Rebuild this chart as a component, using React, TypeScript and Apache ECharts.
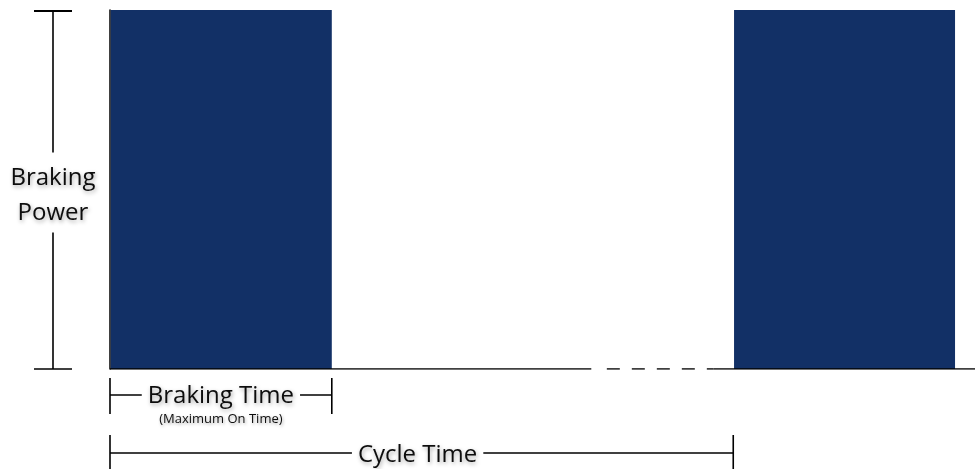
import React, { useEffect, useRef } from "react";
import * as echarts from "echarts";

// time axis (arbitrary units) and normalised braking power
const axisMax = 39;
const pulseStart = [0, 28.1];
const pulseEnd = [10, 38.1];
const pulsePower = [1, 1];
const powerMax = 1;

// baseline: solid, gap, dashed (time break), solid
const solidEnd = 21.7;
const dashStart = 22.4;
const dashEnd = 27.2;

// dimension annotations below the time axis
const spanLabels = ["Braking Time", "Cycle Time"];
const spanNotes = ["(Maximum On Time)", ""];
const spanStart = [0, 0];
const spanEnd = [10, 28.1];
const powerLabel = "Braking\nPower";

const NAVY = "#123066";
const INK = "#0d0d0d";
const FONT = '"Open Sans", "Noto Sans", sans-serif';

const shadow = {
  textShadowColor: "rgba(0,0,0,0.35)",
  textShadowBlur: 4,
  textShadowOffsetX: 1,
  textShadowOffsetY: 2,
};

export default function App() {
  const ref = useRef<HTMLDivElement>(null);

  useEffect(() => {
    if (!ref.current) return;
    const chart = echarts.init(ref.current, null, { renderer: "svg" });

    const pulses = pulseStart.map((s, i) => [s, pulseEnd[i], pulsePower[i]]);
    const spans = spanStart.map((s, i) => [s, spanEnd[i], i]);

    const lineStyle = { color: "#000", width: 1.6 };

    chart.setOption({
      animation: false,
      grid: { left: 110, right: 0, top: 10, bottom: 100 },
      xAxis: {
        type: "value",
        min: 0,
        max: axisMax,
        axisLine: { show: false },
        axisTick: { show: false },
        axisLabel: { show: false },
        splitLine: { show: false },
      },
      yAxis: {
        type: "value",
        min: 0,
        max: powerMax,
        axisLine: { show: true, lineStyle: { color: "#000", width: 1.5 } },
        axisTick: { show: false },
        axisLabel: { show: false },
        splitLine: { show: false },
      },
      series: [
        {
          type: "custom",
          name: "pulses",
          data: pulses,
          encode: { x: [0, 1], y: 2 },
          z: 3,
          renderItem: (params: any, api: any) => {
            const p1 = api.coord([api.value(0), api.value(2)]);
            const p2 = api.coord([api.value(1), 0]);
            return {
              type: "rect",
              shape: { x: p1[0] + 0.8, y: p1[1], width: p2[0] - p1[0] - 0.8, height: p2[1] - p1[1] },
              style: { fill: NAVY },
            };
          },
        },
        {
          type: "line",
          data: [[0, 0], [solidEnd, 0]],
          symbol: "none",
          lineStyle,
          z: 4,
        },
        {
          type: "line",
          data: [[dashStart, 0], [dashEnd, 0]],
          symbol: "none",
          lineStyle: { ...lineStyle, type: [13, 12] },
          z: 4,
        },
        {
          type: "line",
          data: [[dashEnd, 0], [axisMax, 0]],
          symbol: "none",
          lineStyle,
          z: 4,
        },
        {
          type: "custom",
          name: "spans",
          data: spans,
          encode: { x: [0, 1] },
          z: 5,
          clip: false,
          renderItem: (params: any, api: any) => {
            const i = params.dataIndex;
            const a = api.coord([api.value(0), 0]);
            const b = api.coord([api.value(1), 0]);
            const y0 = a[1];
            const lv = i === 0
              ? { t1: 9, t2: 45, ly: 26, ty: 24, fs: 24, dx: 0 }
              : { t1: 66, t2: 110, ly: 84, ty: 83, fs: 24, dx: -4 };
            const sh = { stroke: "#000", lineWidth: 1.6 };
            const children: any[] = [
              { type: "line", shape: { x1: a[0], y1: y0 + lv.t1, x2: a[0], y2: y0 + lv.t2 }, style: sh },
              { type: "line", shape: { x1: b[0], y1: y0 + lv.t1, x2: b[0], y2: y0 + lv.t2 }, style: sh },
              { type: "line", shape: { x1: a[0], y1: y0 + lv.ly, x2: b[0], y2: y0 + lv.ly }, style: sh },
              {
                type: "text",
                style: {
                  text: spanLabels[i],
                  x: (a[0] + b[0]) / 2 + lv.dx,
                  y: y0 + lv.ty,
                  align: "center",
                  verticalAlign: "middle",
                  font: `${lv.fs}px ${FONT}`,
                  lineHeight: 20,
                  fill: INK,
                  backgroundColor: "#fff",
                  padding: [0, 6],
                  ...shadow,
                },
              },
            ];
            if (spanNotes[i]) {
              children.push({
                type: "text",
                style: {
                  text: spanNotes[i],
                  x: (a[0] + b[0]) / 2,
                  y: y0 + 49,
                  align: "center",
                  verticalAlign: "middle",
                  font: `13px ${FONT}`,
                  lineHeight: 14,
                  fill: INK,
                  ...shadow,
                  textShadowBlur: 3,
                  textShadowOffsetY: 1.5,
                },
              });
            }
            return { type: "group", children };
          },
        },
        {
          type: "custom",
          name: "power",
          data: [[0, powerMax]],
          encode: { x: 0, y: 1 },
          z: 5,
          clip: false,
          renderItem: (params: any, api: any) => {
            const top = api.coord([api.value(0), api.value(1)]);
            const bot = api.coord([api.value(0), 0]);
            const x = top[0] - 57;
            const sh = { stroke: "#000", lineWidth: 1.6 };
            return {
              type: "group",
              children: [
                { type: "line", shape: { x1: x - 19, y1: top[1] + 1, x2: x + 19, y2: top[1] + 1 }, style: { ...sh, lineWidth: 2 } },
                { type: "line", shape: { x1: x - 19, y1: bot[1], x2: x + 19, y2: bot[1] }, style: sh },
                { type: "line", shape: { x1: x, y1: top[1], x2: x, y2: bot[1] }, style: sh },
                {
                  type: "text",
                  style: {
                    text: powerLabel,
                    x,
                    y: (top[1] + bot[1]) / 2 + 3,
                    align: "center",
                    verticalAlign: "middle",
                    font: `24px ${FONT}`,
                    lineHeight: 35,
                    fill: INK,
                    backgroundColor: "#fff",
                    padding: [5, 4],
                    ...shadow,
                  },
                },
              ],
            };
          },
        },
      ],
    });

    return () => chart.dispose();
  }, []);

  return (
    <div
      ref={ref}
      style={{ position: "absolute", left: 0, top: 0, width: 975, height: 469 }}
    />
  );
}
